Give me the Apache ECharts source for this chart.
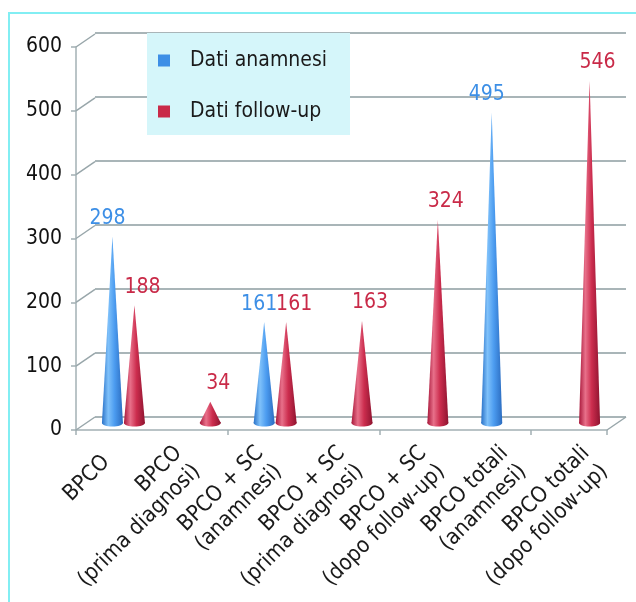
<!DOCTYPE html>
<html>
<head>
<meta charset="utf-8">
<script src="https://cdn.jsdelivr.net/npm/echarts@6/dist/echarts.min.js"></script>
<style>
  html, body { margin: 0; padding: 0; background: #fff; }
  #chart { width: 636px; height: 602px; }
</style>
</head>
<body>
<div id="chart"></div>
<script>
// data
const categories = [
  'BPCO',
  'BPCO\n(prima diagnosi)',
  'BPCO + SC\n(anamnesi)',
  'BPCO + SC\n(prima diagnosi)',
  'BPCO + SC\n(dopo follow-up)',
  'BPCO totali\n(anamnesi)',
  'BPCO totali\n(dopo follow-up)'
];
const seriesNames = ['Dati anamnesi', 'Dati follow-up'];
const anamnesi = [298, null, 161, null, null, 495, null];
const followUp = [188, 34, 161, 163, 324, null, 546];
const yTicks = [0, 100, 200, 300, 400, 500, 600];

const FONT = '"DejaVu Sans Condensed", "DejaVu Sans", sans-serif';
const DX = 19, DY = -13; // depth of the fake 3d box
const BLUE = '#3d8fe6';
const RED = '#c92a48';
const blueShades = ['#2a72c8', '#7fc1fa', '#4c9cf0', '#2b6cc0'];
const redShades = ['#a8173a', '#e8708a', '#cc2d4e', '#8f1430'];

const chart = echarts.init(document.getElementById('chart'));

function toPoints(vals) {
  return vals.map((v, i) => [i, v]).filter(d => d[1] != null);
}

function coneRenderer(offset, labelShift, color, shades) {
  return function (params, api) {
    const cat = api.value(0), v = api.value(1);
    const tip = api.coord([cat, v]);
    const base = api.coord([cat, 0]);
    const cx = tip[0] + offset;
    const hw = 10.5, ry = 3.5;
    const fill = new echarts.graphic.LinearGradient(cx - hw, 0, cx + hw, 0, [
      { offset: 0, color: shades[0] },
      { offset: 0.3, color: shades[1] },
      { offset: 0.6, color: shades[2] },
      { offset: 1, color: shades[3] }
    ], true);
    return {
      type: 'group',
      children: [
        { type: 'ellipse', shape: { cx: cx, cy: base[1], rx: hw, ry: ry }, style: { fill: fill } },
        { type: 'polygon', shape: { points: [[cx, tip[1]], [cx + hw, base[1]], [cx - hw, base[1]]] }, style: { fill: fill } },
        {
          type: 'text',
          style: {
            text: String(v), x: cx + labelShift, y: tip[1] - 18,
            align: 'center', verticalAlign: 'middle',
            fill: color, font: '21px ' + FONT
          }
        }
      ]
    };
  };
}

const option = {
  animation: false,
  graphic: [{
    type: 'rect', z: -10,
    shape: { x: 9, y: 13, width: 700, height: 700 },
    style: { fill: 'none', stroke: '#82eef3', lineWidth: 2 }
  }],
  legend: {
    data: [{ name: seriesNames[0], icon: 'rect' }, { name: seriesNames[1], icon: 'rect' }],
    orient: 'vertical',
    left: 147, top: 33,
    backgroundColor: '#d5f6fa',
    padding: [17, 23, 13, 11],
    itemWidth: 12, itemHeight: 12, itemGap: 30,
    selectedMode: false,
    textStyle: { fontSize: 21, fontFamily: FONT, color: '#1a1a1a', lineHeight: 21, padding: [0, 0, 0, 15] }
  },
  grid: [
    { left: 76, top: 47, width: 531, height: 383 },     // front
    { left: 95, top: 33, width: 531, height: 384 },     // back wall
    { left: 85.5, top: 47, width: 531, height: 376 },   // cones (mid depth)
    { left: 65.4, top: 47, width: 582.4, height: 383 }  // category labels
  ],
  xAxis: [
    {
      gridIndex: 0, type: 'category', data: categories,
      axisLine: { lineStyle: { color: '#a3b0b4', width: 1.5 } },
      axisTick: { show: true, length: 5, lineStyle: { color: '#a3b0b4', width: 1.5 } },
      axisLabel: { show: false }, splitLine: { show: false }
    },
    { gridIndex: 1, type: 'category', data: categories, show: false },
    { gridIndex: 2, type: 'category', data: categories, show: false },
    {
      gridIndex: 3, type: 'category', data: categories,
      axisLine: { show: false }, axisTick: { show: false },
      axisLabel: {
        interval: 0, rotate: 45, margin: 29,
        fontSize: 22, fontFamily: FONT, color: '#1a1a1a', lineHeight: 26
      }
    }
  ],
  yAxis: [
    {
      gridIndex: 0, type: 'value', min: 0, max: 600, interval: 100,
      axisLine: { show: true, lineStyle: { color: '#a3b0b4', width: 1.5 } },
      axisTick: { show: true, length: 5, lineStyle: { color: '#a3b0b4', width: 1.5 } },
      axisLabel: { margin: 14, fontSize: 21, fontFamily: FONT, color: '#111' },
      splitLine: { show: false }
    },
    {
      gridIndex: 1, type: 'value', min: 0, max: 600, interval: 100,
      axisLine: { show: false }, axisTick: { show: false }, axisLabel: { show: false },
      splitLine: { show: true, lineStyle: { color: '#8c9ca0', width: 1.5 } }
    },
    { gridIndex: 2, type: 'value', min: 0, max: 600, interval: 100, show: false },
    { gridIndex: 3, type: 'value', min: 0, max: 600, interval: 100, show: false }
  ],
  series: [
    {
      // depth lines of the box (left wall edges + floor right edge)
      type: 'custom', silent: true, xAxisIndex: 0, yAxisIndex: 0,
      data: yTicks.map(v => [0, v, -1]).concat([[categories.length - 1, 0, 1]]),
      renderItem: function (params, api) {
        const p = api.coord([api.value(0), api.value(1)]);
        const bw = api.size([1, 0])[0];
        const x = p[0] + api.value(2) * bw / 2;
        return {
          type: 'line',
          shape: { x1: x, y1: p[1], x2: x + DX, y2: p[1] + DY },
          style: { stroke: '#98a6aa', lineWidth: 1.5 }
        };
      }
    },
    {
      name: seriesNames[0], type: 'custom', xAxisIndex: 2, yAxisIndex: 2,
      itemStyle: { color: BLUE },
      data: toPoints(anamnesi),
      renderItem: coneRenderer(-11, -5, BLUE, blueShades)
    },
    {
      name: seriesNames[1], type: 'custom', xAxisIndex: 2, yAxisIndex: 2,
      itemStyle: { color: RED },
      data: toPoints(followUp),
      renderItem: coneRenderer(11, 8, RED, redShades)
    }
  ]
};

chart.setOption(option);
</script>
</body>
</html>
